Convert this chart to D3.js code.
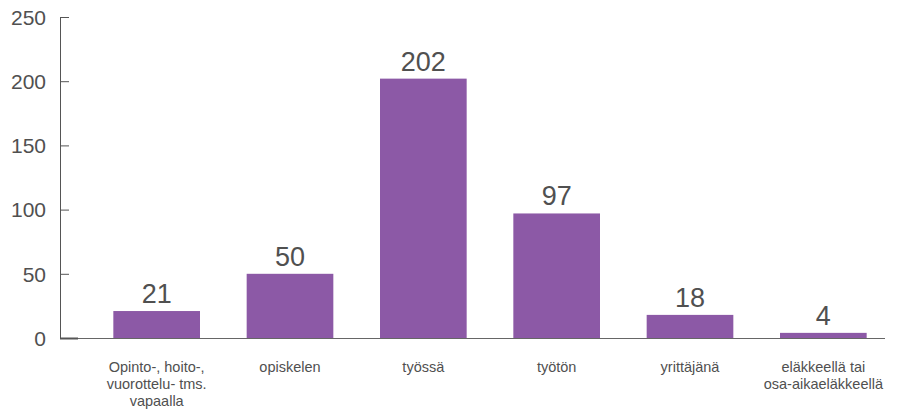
<!DOCTYPE html>
<html>
<head>
<meta charset="utf-8">
<script src="https://cdn.jsdelivr.net/npm/d3@7"></script>
<style>
  body { margin: 0; background: #fff; }
  svg { font-family: 'Liberation Sans', Arial, sans-serif; }
  .tick text { fill: #505050; }
</style>
</head>
<body>
<svg id="chart" width="903" height="410"></svg>
<script>
const categories = [
  ['Opinto-, hoito-,', 'vuorottelu- tms.', 'vapaalla'],
  ['opiskelen'],
  ['työssä'],
  ['työtön'],
  ['yrittäjänä'],
  ['eläkkeellä tai', 'osa-aikaeläkkeellä']
];
const values = [21, 50, 202, 97, 18, 4];
const yTicks = [0, 50, 100, 150, 200, 250];

const svg = d3.select('#chart');
const axisX = 60;
const plotTop = 17;
const plotBottom = 338;

const xScale = d3.scaleBand()
  .range([90, 890])
  .domain(d3.range(values.length))
  .paddingInner(0.35)
  .paddingOuter(0.175);

const yScale = d3.scaleLinear()
  .range([plotBottom, plotTop])
  .domain([0, 250]);

// y axis
const yAxis = svg.append('g')
  .attr('transform', `translate(${axisX}, 0)`)
  .call(d3.axisRight(yScale).tickValues(yTicks).tickSize(9).tickSizeOuter(0));
yAxis.select('.domain').attr('stroke', '#555');
yAxis.selectAll('.tick line').attr('stroke', '#555');
yAxis.selectAll('.tick text')
  .attr('x', -14)
  .attr('text-anchor', 'end')
  .attr('font-size', 21)
  .attr('dy', '0.35em');

// baseline
svg.append('line')
  .attr('x1', axisX)
  .attr('x2', 885)
  .attr('y1', yScale(0) + 0.5)
  .attr('y2', yScale(0) + 0.5)
  .attr('stroke', '#666');
svg.append('line')
  .attr('x1', axisX)
  .attr('x2', 78)
  .attr('y1', yScale(0) + 0.5)
  .attr('y2', yScale(0) + 0.5)
  .attr('stroke', '#555')
  .attr('stroke-width', 2);

// bars
svg.selectAll('.bar')
  .data(values)
  .enter()
  .append('rect')
  .attr('class', 'bar')
  .attr('x', (d, i) => xScale(i))
  .attr('y', (d) => yScale(d))
  .attr('width', xScale.bandwidth())
  .attr('height', (d) => yScale(0) - yScale(d))
  .attr('fill', '#8c59a6');

// value labels
svg.selectAll('.value')
  .data(values)
  .enter()
  .append('text')
  .attr('class', 'value')
  .attr('x', (d, i) => xScale(i) + xScale.bandwidth() / 2)
  .attr('y', (d) => yScale(d) - 8)
  .attr('text-anchor', 'middle')
  .attr('font-size', 27)
  .attr('fill', '#505050')
  .text((d) => d);

// category labels
const labels = svg.selectAll('.cat')
  .data(categories)
  .enter()
  .append('text')
  .attr('class', 'cat')
  .attr('text-anchor', 'middle')
  .attr('font-size', 14.5)
  .attr('fill', '#505050');
labels.each(function (lines, i) {
  const cx = xScale(i) + xScale.bandwidth() / 2;
  d3.select(this).selectAll('tspan')
    .data(lines)
    .enter()
    .append('tspan')
    .attr('x', cx)
    .attr('y', (l, j) => 372 + j * 17)
    .text((l) => l);
});
</script>
</body>
</html>
